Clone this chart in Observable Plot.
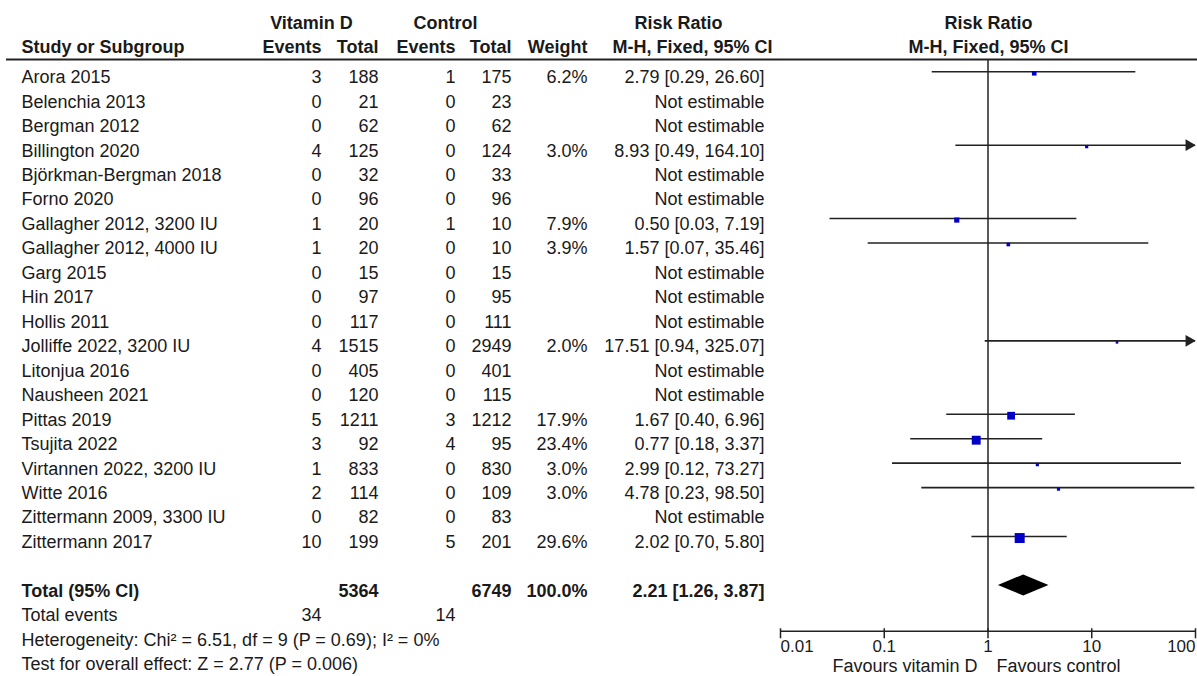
<!DOCTYPE html>
<html>
<head>
<meta charset="utf-8">
<script src="https://cdn.jsdelivr.net/npm/d3@7"></script>
<script src="https://cdn.jsdelivr.net/npm/@observablehq/plot@0.6"></script>
<style>
  html, body { margin: 0; padding: 0; background: #fff; }
</style>
</head>
<body>
<div id="chart"></div>
<script>
// ---------- data ----------
const studies = ["Arora 2015","Belenchia 2013","Bergman 2012","Billington 2020","Björkman-Bergman 2018","Forno 2020","Gallagher 2012, 3200 IU","Gallagher 2012, 4000 IU","Garg 2015","Hin 2017","Hollis 2011","Jolliffe 2022, 3200 IU","Litonjua 2016","Nausheen 2021","Pittas 2019","Tsujita 2022","Virtannen 2022, 3200 IU","Witte 2016","Zittermann 2009, 3300 IU","Zittermann 2017"];
const vitEvents = [3,0,0,4,0,0,1,1,0,0,0,4,0,0,5,3,1,2,0,10];
const vitTotal  = [188,21,62,125,32,96,20,20,15,97,117,1515,405,120,1211,92,833,114,82,199];
const ctlEvents = [1,0,0,0,0,0,1,0,0,0,0,0,0,0,3,4,0,0,0,5];
const ctlTotal  = [175,23,62,124,33,96,10,10,15,95,111,2949,401,115,1212,95,830,109,83,201];
const weight    = [6.2,null,null,3.0,null,null,7.9,3.9,null,null,null,2.0,null,null,17.9,23.4,3.0,3.0,null,29.6];
const rr        = [2.79,null,null,8.93,null,null,0.50,1.57,null,null,null,17.51,null,null,1.67,0.77,2.99,4.78,null,2.02];
const rrLow     = [0.29,null,null,0.49,null,null,0.03,0.07,null,null,null,0.94,null,null,0.40,0.18,0.12,0.23,null,0.70];
const rrHigh    = [26.60,null,null,164.10,null,null,7.19,35.46,null,null,null,325.07,null,null,6.96,3.37,73.27,98.50,null,5.80];

const totalVit = 5364, totalCtl = 6749, totalWeight = 100.0;
const totalRR = 2.21, totalLow = 1.26, totalHigh = 3.87;
const totalEventsVit = 34, totalEventsCtl = 14;
const heterogeneity = "Heterogeneity: Chi² = 6.51, df = 9 (P = 0.69); I² = 0%";
const overallTest = "Test for overall effect: Z = 2.77 (P = 0.006)";
const axisTicks = [0.01, 0.1, 1, 10, 100];
const tickLabels = ["0.01", "0.1", "1", "10", "100"];

// ---------- layout ----------
const ML = 6;                 // left margin of frame
const colStudy = 21;          // left edge
const colVitEv = 321, colVitTot = 378, colCtlEv = 455, colCtlTot = 511, colWeight = 587, colRR = 764;
const rowDy = 5.6;
const totalRow = 21, eventsRow = 22, hetRow = 23, testRow = 24;
const axisRow = 22.87;
const diamondHalf = 0.43;
const textColor = "#1a1a1a";
const lineColor = "#222";

const rows = studies.map((s, i) => ({
  i, study: s,
  ve: String(vitEvents[i]), vt: String(vitTotal[i]), ce: String(ctlEvents[i]), ct: String(ctlTotal[i]),
  w: weight[i], rr: rr[i], lo: rrLow[i], hi: rrHigh[i]
}));
const fmt2 = v => v.toFixed(2);
rows.forEach(d => {
  d.wText = d.w == null ? "" : d.w.toFixed(1) + "%";
  d.rrText = d.rr == null ? "Not estimable" : `${fmt2(d.rr)} [${fmt2(d.lo)}, ${fmt2(d.hi)}]`;
});
const est = rows.filter(d => d.rr != null);
const arrows = est.filter(d => d.hi > 100);

const col = (data, opts, right, anchor = "end") =>
  Plot.text(data, {frameAnchor: "left", dx: right - ML, textAnchor: anchor, fill: textColor, fontSize: 18, ...opts});

const body = (text, right, anchor) => col(rows, {y: "i", text, dy: rowDy}, right, anchor);
const single = (row, text, right, anchor, bold) =>
  col([0], {y: () => row, text: () => text, dy: rowDy, fontWeight: bold ? "bold" : "normal"}, right, anchor);
const head = (row, text, x, anchor) =>
  col([0], {y: () => row, text: () => text, fontWeight: "bold"}, x, anchor);

const diamond = [
  {x: totalLow, h: 0}, {x: totalRR, h: 1}, {x: totalHigh, h: 0}
];
const ticks = axisTicks.map((v, k) => ({v, label: tickLabels[k], k}));
const tickDy = 15.5;
const favDy = 35;

const chart = Plot.plot({
  width: 1197,
  height: 676,
  marginLeft: ML, marginRight: 0, marginTop: 0, marginBottom: 0,
  style: {fontFamily: "Arial, 'Liberation Sans', sans-serif", fontSize: "18px", color: textColor, background: "#fff"},
  x: {type: "log", domain: [0.01, 100], range: [780, 1195], clamp: true, axis: null},
  y: {domain: [0, 24], range: [71.3, 71.3 + 24 * 24.46], axis: null},
  r: {type: "sqrt", domain: [0, 29.6], range: [0, 5.64]},
  marks: [
    // header texts
    head(-2, "Vitamin D", 311, "middle"),
    head(-2, "Control", 445, "middle"),
    head(-2, "Risk Ratio", 678, "middle"),
    head(-2, "Risk Ratio", 988, "middle"),
    head(-1, "Study or Subgroup", colStudy, "start"),
    head(-1, "Events", colVitEv, "end"),
    head(-1, "Total", colVitTot, "end"),
    head(-1, "Events", colCtlEv, "end"),
    head(-1, "Total", colCtlTot, "end"),
    head(-1, "Weight", colWeight, "end"),
    head(-1, "M-H, Fixed, 95% CI", 772, "end"),
    head(-1, "M-H, Fixed, 95% CI", 988, "middle"),
    // header rule
    Plot.ruleY([-0.5], {stroke: lineColor, strokeWidth: 2}),
    // table body
    body("study", colStudy, "start"),
    body("ve", colVitEv),
    body("vt", colVitTot),
    body("ce", colCtlEv),
    body("ct", colCtlTot),
    body("wText", colWeight),
    body("rrText", colRR),
    // totals
    single(totalRow, "Total (95% CI)", colStudy, "start", true),
    single(totalRow, String(totalVit), colVitTot, "end", true),
    single(totalRow, String(totalCtl), colCtlTot, "end", true),
    single(totalRow, totalWeight.toFixed(1) + "%", colWeight, "end", true),
    single(totalRow, `${fmt2(totalRR)} [${fmt2(totalLow)}, ${fmt2(totalHigh)}]`, colRR, "end", true),
    single(eventsRow, "Total events", colStudy, "start", false),
    single(eventsRow, String(totalEventsVit), colVitEv, "end", false),
    single(eventsRow, String(totalEventsCtl), colCtlEv, "end", false),
    single(hetRow, heterogeneity, colStudy, "start", false),
    single(testRow, overallTest, colStudy, "start", false),
    // forest: line of no effect
    Plot.ruleX([1], {y1: -0.5, y2: axisRow, stroke: lineColor, strokeWidth: 1.5}),
    // CI lines
    Plot.ruleY(est, {y: "i", x1: "lo", x2: "hi", stroke: lineColor, strokeWidth: 1.6}),
    // arrow heads for CIs beyond the axis
    Plot.dot(arrows, {y: "i", x: "hi", symbol: "triangle", rotate: 90, r: 4.4, fill: lineColor, stroke: "none", dx: -6.5}),
    // weight squares
    Plot.dot(est, {y: "i", x: "rr", r: "w", symbol: "square", fill: "#0000c8", stroke: "none", dy: 1.5}),
    // pooled diamond
    Plot.areaY(diamond, {x: "x", y1: d => totalRow - diamondHalf * d.h, y2: d => totalRow + diamondHalf * d.h, fill: "#000"}),
    // x axis
    Plot.ruleY([axisRow], {x1: 0.01, x2: 100, stroke: lineColor, strokeWidth: 1.5}),
    Plot.ruleX(ticks, {x: "v", y1: axisRow - 0.1, y2: axisRow + 0.31, stroke: lineColor, strokeWidth: 1.5}),
    Plot.text(ticks.filter(d => d.k === 0), {x: "v", y: () => axisRow, text: "label", dy: tickDy, textAnchor: "start", fontSize: 17, fill: textColor}),
    Plot.text(ticks.filter(d => d.k > 0 && d.k < ticks.length - 1), {x: "v", y: () => axisRow, text: "label", dy: tickDy, textAnchor: "middle", fontSize: 17, fill: textColor}),
    Plot.text(ticks.filter(d => d.k === ticks.length - 1), {x: "v", y: () => axisRow, text: "label", dy: tickDy, textAnchor: "end", fontSize: 17, fill: textColor}),
    Plot.text([0], {x: () => 1, y: () => axisRow, text: () => "Favours vitamin D", dy: favDy, dx: -10.5, textAnchor: "end", fontSize: 18, fill: textColor}),
    Plot.text([0], {x: () => 1, y: () => axisRow, text: () => "Favours control", dy: favDy, dx: 8.5, textAnchor: "start", fontSize: 18, fill: textColor})
  ]
});
document.getElementById("chart").appendChild(chart);
</script>
</body>
</html>
